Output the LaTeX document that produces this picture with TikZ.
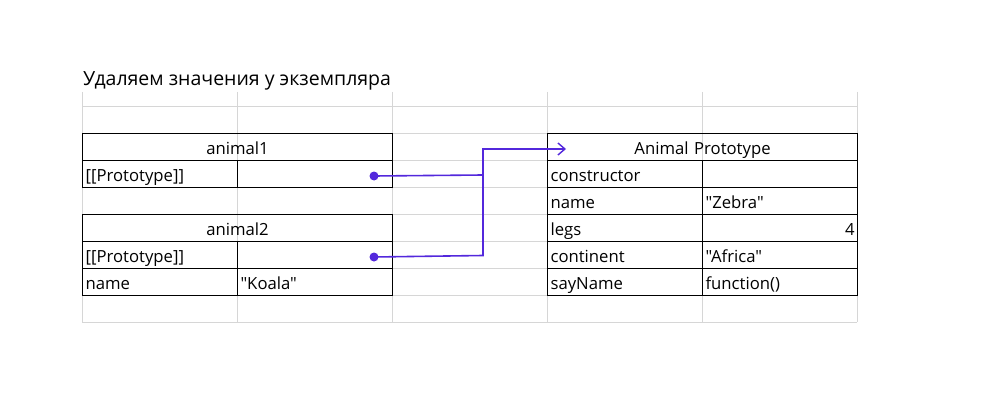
\documentclass[tikz,border=0pt]{standalone}
\usepackage{fontspec}
\setmainfont{Open Sans}[Ligatures=TeXOff]
\usetikzlibrary{arrows.meta}
\definecolor{gridc}{HTML}{D6D6D6}
\definecolor{conc}{HTML}{5328DC}
\tikzset{
  cell/.style={draw=black, line width=1.1pt, minimum height=27pt, inner sep=0pt,
    anchor=north west, font=\fontsize{16.7}{19}\selectfont, text height=15pt, text depth=0pt},
  wide/.style={cell, minimum width=310pt, text width=304pt, align=center},
  lcell/.style={cell, minimum width=155pt, text width=149pt, align=left},
  rcell/.style={cell, minimum width=155pt, text width=149pt, align=right},
  dot/.style={circle, fill=conc, inner sep=0pt, minimum size=9pt},
  conn/.style={draw=conc, line width=1.6pt},
  gridline/.style={draw=gridc, line width=0.9pt}
}
\begin{document}
\begin{tikzpicture}[x=1pt,y=-1pt]
\useasboundingbox (0,0) rectangle (1002,420);
% grid
\foreach \x in {82,237,392,547,702,857} \draw[gridline] (\x,92) -- (\x,322);
\foreach \y in {106,133,160,187,214,241,268,295,322} \draw[gridline] (82,\y) -- (857,\y);
% title
\node[anchor=base west, inner sep=0pt, font=\fontsize{19.5}{23}\selectfont] (title) at (83,85) {Удаляем значения у экземпляра};
% animal1
\node[wide] (a1) at (82,133) {animal1};
\node[lcell] (a1k) at (82,160) {[[Prototype]]};
\node[lcell] (a1v) at (237,160) {};
% animal2
\node[wide] (a2) at (82,214) {animal2};
\node[lcell] (a2k) at (82,241) {[[Prototype]]};
\node[lcell] (a2v) at (237,241) {};
\node[lcell] (a2nk) at (82,268) {name};
\node[lcell] (a2nv) at (237,268) {"Koala"};
% prototype
\node[wide] (ap) at (547,133) {Animal Prototype};
\node[lcell] (c1k) at (547,160) {constructor};
\node[lcell] (c1v) at (702,160) {};
\node[lcell] (c2k) at (547,187) {name};
\node[lcell] (c2v) at (702,187) {"Zebra"};
\node[lcell] (c3k) at (547,214) {legs};
\node[rcell] (c3v) at (702,214) {4};
\node[lcell] (c4k) at (547,241) {continent};
\node[lcell] (c4v) at (702,241) {"Africa"};
\node[lcell] (c5k) at (547,268) {sayName};
\node[lcell] (c5v) at (702,268) {function()};
% connectors
\node[dot] (d1) at (374,176) {};
\node[dot] (d2) at (374,257) {};
\coordinate (j1) at (483,175);
\coordinate (j2) at (483,255.5);
\coordinate (tip) at (566,149);
\draw[conn] (d1.center) -- (j1);
\draw[conn, -{Straight Barb[length=7pt,width=12pt,line width=1.4pt]}] (d2.center) -- (j2) |- (tip);
\end{tikzpicture}
\end{document}
